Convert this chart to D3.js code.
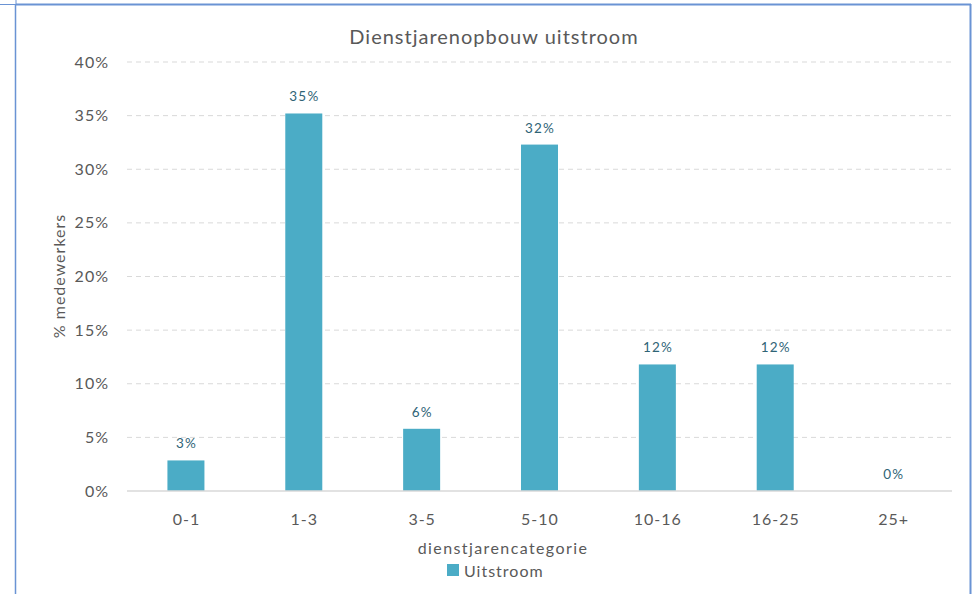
<!DOCTYPE html>
<html lang="nl">
<head>
<meta charset="utf-8">
<script src="https://d3js.org/d3.v7.min.js"></script>
<style>
  body { margin: 0; background: #fff; }
  svg text { font-family: Lato, "Open Sans", sans-serif; letter-spacing: 1px; }
  .grid line { stroke: #d9d9d9; stroke-dasharray: 5,4; }
</style>
</head>
<body>
<svg width="975" height="594"></svg>
<script>
// chart data
var categories = ["0-1", "1-3", "3-5", "5-10", "10-16", "16-25", "25+"];
var uitstroom = [2.85, 35.2, 5.8, 32.3, 11.8, 11.8, 0];
var labels = ["3%", "35%", "6%", "32%", "12%", "12%", "0%"];
var yTicks = [0, 5, 10, 15, 20, 25, 30, 35, 40];

var svg = d3.select("svg");
var margin = {left: 127, right: 23, top: 62, bottom: 103};
var W = 975, H = 594;

// frame
var frame = "#6a93d4";
svg.append("line").attr("x1", 15.5).attr("x2", 15.5).attr("y1", 4).attr("y2", H).attr("stroke", frame).attr("stroke-width", 1.5);
svg.append("line").attr("x1", 0).attr("x2", 16).attr("y1", 4.5).attr("y2", 4.5).attr("stroke", frame).attr("stroke-width", 1);
svg.append("line").attr("x1", 16).attr("x2", 16).attr("y1", 0).attr("y2", 4).attr("stroke", frame).attr("stroke-width", 1);
svg.append("line").attr("x1", 16).attr("x2", 971).attr("y1", 4.5).attr("y2", 4.5).attr("stroke", frame).attr("stroke-width", 2);
svg.append("line").attr("x1", 970.5).attr("x2", 970.5).attr("y1", 4).attr("y2", H).attr("stroke", frame).attr("stroke-width", 2);

var x = d3.scaleBand().domain(categories).range([margin.left, W - margin.right]).paddingInner(0.686).paddingOuter(0.343);
var y = d3.scaleLinear().domain([0, 40]).range([H - margin.bottom, margin.top]);

// gridlines
svg.append("g").attr("class", "grid")
  .selectAll("line").data(yTicks.filter(function(d) { return d > 0; }))
  .enter().append("line")
  .attr("x1", margin.left).attr("x2", W - margin.right)
  .attr("y1", function(d) { return y(d); }).attr("y2", function(d) { return y(d); });

// y labels
svg.append("g").selectAll("text").data(yTicks).enter().append("text")
  .attr("x", 109).attr("y", function(d) { return y(d); })
  .attr("dy", "0.35em").attr("text-anchor", "end")
  .attr("font-size", 16).attr("fill", "#595959")
  .text(function(d) { return d + "%"; });

// bars
svg.append("g").selectAll("rect").data(uitstroom).enter().append("rect")
  .attr("x", function(d, i) { return x(categories[i]); })
  .attr("width", x.bandwidth())
  .attr("y", function(d) { return y(d); })
  .attr("height", function(d) { return y(0) - y(d); })
  .attr("fill", "#4bacc6");

// baseline
svg.append("line").attr("x1", margin.left).attr("x2", W - margin.right)
  .attr("y1", y(0)).attr("y2", y(0)).attr("stroke", "#d9d9d9").attr("stroke-width", 1.5);

// value labels
svg.append("g").selectAll("text").data(uitstroom).enter().append("text")
  .attr("x", function(d, i) { return x(categories[i]) + x.bandwidth() / 2 + 0.6; })
  .attr("y", function(d) { return y(d) - 12; })
  .attr("text-anchor", "middle").attr("font-size", 13.5).attr("fill", "#2f6476")
  .style("letter-spacing", "1.2px")
  .text(function(d, i) { return labels[i]; });

// x labels
svg.append("g").selectAll("text").data(categories).enter().append("text")
  .attr("x", function(d) { return x(d) + x.bandwidth() / 2 + 0.5; })
  .attr("y", 525).attr("text-anchor", "middle")
  .attr("font-size", 16).attr("fill", "#595959")
  .text(function(d) { return d; });

// titles
svg.append("text").attr("x", 494).attr("y", 44).attr("text-anchor", "middle")
  .attr("font-size", 20).attr("fill", "#595959").text("Dienstjarenopbouw uitstroom");
svg.append("text").attr("x", 503).attr("y", 554).attr("text-anchor", "middle")
  .attr("font-size", 16).attr("fill", "#595959").style("letter-spacing", "1.4px").text("dienstjarencategorie");
svg.append("text").attr("transform", "translate(65,276) rotate(-90)").attr("text-anchor", "middle")
  .attr("font-size", 16).attr("fill", "#595959").text("% medewerkers");

// legend
svg.append("rect").attr("x", 447).attr("y", 564).attr("width", 12).attr("height", 12).attr("fill", "#4bacc6");
svg.append("text").attr("x", 464).attr("y", 577).attr("font-size", 16).attr("fill", "#595959").text("Uitstroom");
</script>
</body>
</html>
